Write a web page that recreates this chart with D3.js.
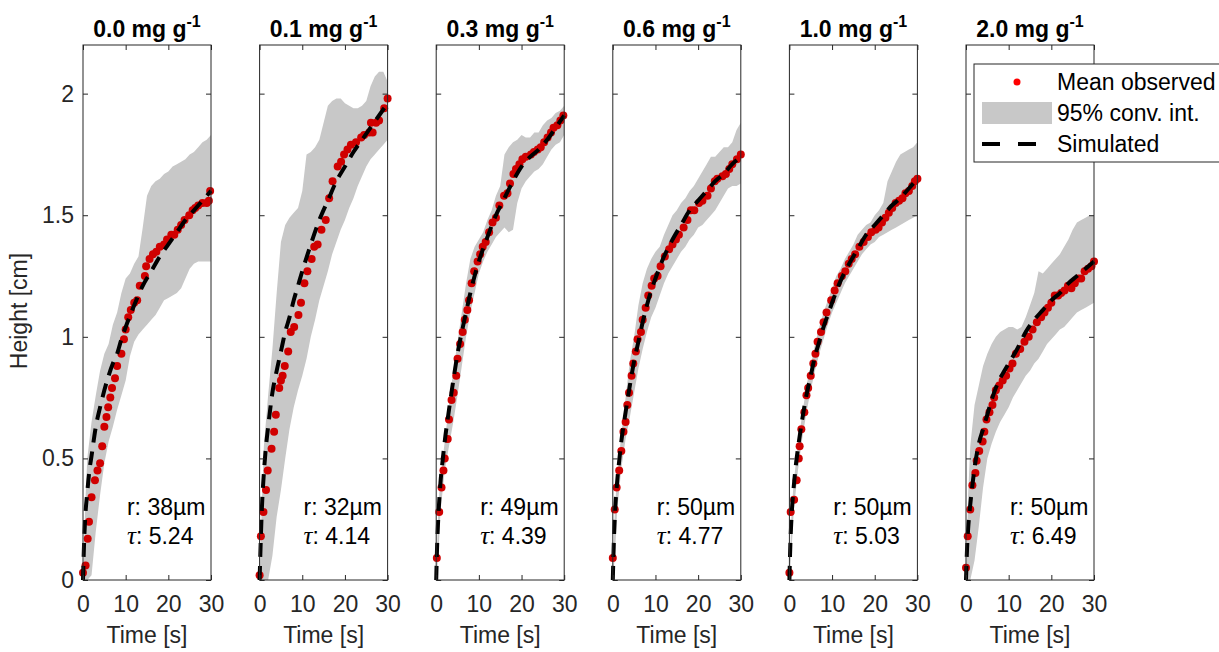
<!DOCTYPE html>
<html>
<head>
<meta charset="utf-8">
<script src="https://cdn.jsdelivr.net/npm/d3@7"></script>
<style>
  body { margin: 0; background: #fff; }
  text { font-family: "Liberation Sans", Arial, Helvetica, sans-serif; }
</style>
</head>
<body>
<div id="chart"></div>
<script>
// panel labels
let concentrations = ["0.0", "0.1", "0.3", "0.6", "1.0", "2.0"];
let radii = ["38µm", "32µm", "49µm", "50µm", "50µm", "50µm"];
let taus = ["5.24", "4.14", "4.39", "4.77", "5.03", "6.49"];

let xTicks = [0, 10, 20, 30];
let yTicks = [0, 0.5, 1, 1.5, 2];
let yTickLabels = ["0", "0.5", "1", "1.5", "2"];

// mean observed heights
let obsTime = [
  [0,0.6,1.1,1.4,2.0,2.8,3.4,4.0,4.5,5.0,5.5,5.9,6.4,6.8,7.5,8.0,9.0,9.6,10,10.6,11.2,12,12.7,13.3,14.5,14.8,15.6,16.4,17.2,18,19,19.7,20.7,21.4,22.2,23,23.8,24.9,25.7,26.3,27,28,29,29.5,29.8],
  [0,0.3,0.9,1.5,1.9,2.8,3.4,3.8,4.6,5.0,5.4,5.9,6.7,7.3,8.1,9.1,9.7,10.5,11.2,12.2,12.8,13.6,14.5,15.5,16.3,17.1,18.3,19.1,19.8,20.6,21.4,22.6,23.8,24.5,25.7,26.1,26.5,27.3,28,29.2,30],
  [0.15,0.7,1.25,1.7,2.0,2.7,3.0,3.6,4.1,4.7,5.0,5.6,6.2,6.7,7.3,7.7,8.3,8.9,9.7,10.3,10.9,11.6,12.4,13.2,14,14.8,15.9,16.7,17.3,18.1,18.7,19.5,20.2,21,22.2,22.9,23.8,24.5,25.3,26.1,26.9,27.5,28.4,29.1,29.8],
  [0,0.45,0.9,1.5,2,2.5,3.0,3.4,3.8,4.4,4.8,5.4,5.8,6.6,7,7.7,8.3,9.1,9.7,10.5,11.2,12.2,13.2,14,14.8,15.5,16.6,17.5,18.3,19.1,20.2,21,22.2,23,23.9,24.5,25.7,26.5,27.3,28,29.1,30],
  [0,0.3,1.1,1.7,2.2,2.4,2.8,3.5,4,4.4,5,5.6,6.1,6.6,7.4,8,8.7,9.8,10.6,11.3,12.3,13.1,13.9,14.6,15.4,16.4,17.4,18.4,19.2,20.2,20.9,21.7,22.5,23.3,24.1,24.9,25.7,26.5,27.2,28,28.8,29.4,30],
  [0,0.4,1,1.5,2.2,2.5,3.1,3.9,4.3,4.8,5.5,6.2,6.6,7,7.8,8.6,9.4,10.2,10.9,11.7,12.7,13.7,14.7,15.6,16.6,17.6,18.4,19.2,20,20.8,21.6,22.3,23.1,23.9,24.7,25.5,26.3,27,27.8,28.6,29.4,30]
];
let obsHeight = [
  [0.03,0.06,0.17,0.24,0.34,0.41,0.45,0.48,0.55,0.63,0.67,0.71,0.75,0.79,0.83,0.88,0.93,0.99,1.03,1.08,1.11,1.14,1.15,1.21,1.25,1.29,1.32,1.34,1.35,1.37,1.38,1.40,1.42,1.42,1.44,1.46,1.48,1.50,1.52,1.53,1.54,1.55,1.55,1.56,1.60],
  [0.02,0.18,0.28,0.37,0.45,0.54,0.61,0.68,0.79,0.82,0.84,0.88,0.94,1.02,1.04,1.09,1.14,1.22,1.27,1.32,1.37,1.38,1.44,1.48,1.57,1.64,1.70,1.72,1.75,1.77,1.79,1.80,1.82,1.83,1.84,1.88,1.84,1.88,1.89,1.94,1.98],
  [0.09,0.28,0.38,0.45,0.50,0.58,0.66,0.74,0.77,0.84,0.91,0.97,1.02,1.07,1.11,1.15,1.22,1.27,1.31,1.34,1.37,1.39,1.43,1.47,1.49,1.54,1.58,1.59,1.63,1.67,1.69,1.71,1.73,1.74,1.75,1.76,1.77,1.78,1.80,1.82,1.84,1.86,1.87,1.89,1.91],
  [0.09,0.29,0.38,0.45,0.53,0.61,0.65,0.72,0.77,0.84,0.89,0.94,0.99,1.02,1.07,1.12,1.17,1.21,1.24,1.25,1.29,1.33,1.36,1.38,1.40,1.42,1.45,1.48,1.52,1.52,1.55,1.56,1.58,1.61,1.64,1.65,1.66,1.67,1.69,1.71,1.73,1.75],
  [0.03,0.28,0.33,0.41,0.50,0.55,0.62,0.69,0.76,0.79,0.84,0.89,0.93,0.98,1.02,1.06,1.10,1.15,1.19,1.22,1.25,1.27,1.30,1.32,1.34,1.37,1.39,1.41,1.43,1.44,1.45,1.47,1.49,1.51,1.53,1.55,1.56,1.57,1.59,1.60,1.62,1.64,1.65],
  [0.05,0.18,0.29,0.39,0.44,0.49,0.53,0.57,0.61,0.66,0.69,0.72,0.75,0.78,0.80,0.82,0.84,0.87,0.89,0.93,0.95,0.98,1.00,1.03,1.06,1.08,1.10,1.12,1.14,1.17,1.17,1.18,1.19,1.21,1.20,1.22,1.24,1.24,1.27,1.28,1.29,1.31]
];

// 95% confidence band
let bandTime = [0,0.5,1,2,3,4,5,6,7,8,9,10,11,12,13,14,15,16,17,18,19,20,21,22,23,24,25,26,27,28,29,30];
let bandHigh = [
  [0,0.3,0.5,0.65,0.76,0.86,0.93,0.97,1.05,1.1,1.18,1.24,1.26,1.3,1.33,1.45,1.58,1.62,1.64,1.65,1.67,1.68,1.7,1.71,1.72,1.73,1.75,1.76,1.78,1.8,1.81,1.83],
  [0,0.3,0.55,0.76,0.95,1.18,1.39,1.46,1.49,1.51,1.53,1.6,1.75,1.76,1.78,1.81,1.88,1.95,1.97,1.98,1.98,1.96,1.95,1.94,1.94,1.95,1.97,2.03,2.07,2.09,2.09,2.05],
  [0,0.3,0.42,0.57,0.72,0.86,0.98,1.1,1.22,1.32,1.37,1.4,1.43,1.48,1.52,1.58,1.62,1.75,1.78,1.8,1.81,1.83,1.82,1.82,1.84,1.84,1.87,1.89,1.9,1.92,1.93,1.95],
  [0,0.3,0.42,0.6,0.75,0.9,1.0,1.13,1.22,1.28,1.32,1.35,1.37,1.42,1.46,1.5,1.52,1.55,1.57,1.6,1.62,1.65,1.68,1.71,1.74,1.74,1.76,1.78,1.78,1.8,1.85,1.88],
  [0,0.28,0.4,0.56,0.68,0.8,0.88,0.97,1.04,1.1,1.15,1.2,1.25,1.28,1.32,1.35,1.38,1.42,1.44,1.46,1.47,1.5,1.52,1.55,1.64,1.68,1.72,1.75,1.76,1.77,1.78,1.8],
  [0,0.35,0.55,0.72,0.8,0.88,0.93,0.97,1.0,1.02,1.03,1.04,1.04,1.03,1.04,1.08,1.13,1.18,1.27,1.26,1.28,1.3,1.32,1.34,1.37,1.4,1.44,1.47,1.48,1.49,1.5,1.5]
];
let bandLow = [
  [0,0,0,0.02,0.2,0.35,0.48,0.57,0.63,0.7,0.76,0.82,0.92,0.98,1.01,1.03,1.05,1.07,1.09,1.12,1.15,1.16,1.17,1.18,1.2,1.24,1.28,1.3,1.31,1.31,1.31,1.31],
  [0,0,0,0,0.1,0.26,0.37,0.5,0.62,0.71,0.78,0.84,0.91,1.0,1.07,1.15,1.21,1.27,1.34,1.39,1.44,1.48,1.53,1.57,1.62,1.66,1.7,1.73,1.75,1.77,1.79,1.81],
  [0,0.1,0.28,0.45,0.55,0.65,0.76,0.88,1.0,1.1,1.18,1.26,1.31,1.35,1.38,1.41,1.43,1.45,1.43,1.44,1.55,1.61,1.64,1.66,1.68,1.69,1.71,1.74,1.77,1.79,1.8,1.83],
  [0,0.1,0.28,0.46,0.58,0.67,0.77,0.87,0.95,1.02,1.08,1.12,1.17,1.22,1.26,1.29,1.32,1.35,1.37,1.4,1.42,1.45,1.46,1.48,1.5,1.52,1.55,1.58,1.61,1.62,1.62,1.63],
  [0,0.12,0.28,0.45,0.58,0.69,0.78,0.86,0.93,0.99,1.05,1.1,1.14,1.18,1.22,1.25,1.28,1.31,1.34,1.36,1.38,1.39,1.41,1.42,1.43,1.44,1.45,1.46,1.47,1.48,1.49,1.5],
  [0,0,0,0.08,0.22,0.38,0.5,0.56,0.61,0.65,0.68,0.71,0.75,0.78,0.81,0.84,0.86,0.89,0.91,0.94,0.97,0.99,1.01,1.03,1.04,1.06,1.08,1.1,1.11,1.12,1.13,1.14]
];

// simulated heights
let simTime = [0,0.25,0.5,1,1.5,2,3,4,5,6,7,8,9,10,12,14,16,18,20,22,24,26,28,30];
let simHeight = [
  [0,0.15,0.25,0.36,0.45,0.51,0.63,0.71,0.78,0.84,0.89,0.93,0.99,1.04,1.13,1.21,1.27,1.33,1.38,1.43,1.48,1.52,1.56,1.60],
  [0,0.15,0.28,0.44,0.55,0.63,0.77,0.86,0.94,1.02,1.08,1.15,1.21,1.27,1.38,1.48,1.56,1.64,1.70,1.76,1.81,1.86,1.91,1.96],
  [0,0.16,0.26,0.40,0.49,0.57,0.70,0.82,0.93,1.02,1.10,1.18,1.25,1.31,1.41,1.50,1.57,1.64,1.70,1.74,1.77,1.81,1.86,1.91],
  [0,0.16,0.27,0.40,0.49,0.57,0.69,0.80,0.90,0.98,1.06,1.13,1.19,1.24,1.33,1.40,1.46,1.52,1.56,1.60,1.64,1.67,1.71,1.74],
  [0,0.16,0.26,0.38,0.47,0.54,0.66,0.76,0.84,0.92,0.98,1.04,1.09,1.14,1.23,1.30,1.36,1.42,1.46,1.50,1.54,1.57,1.61,1.65],
  [0,0.13,0.21,0.31,0.39,0.46,0.56,0.62,0.68,0.74,0.79,0.83,0.86,0.89,0.95,1.02,1.07,1.11,1.15,1.18,1.22,1.25,1.28,1.31]
];

let legendLabels = ["Mean observed", "95% conv. int.", "Simulated"];

let width = 1219;
let height = 652;
let panel_left = 83;
let panel_step = 176.6;
let panel_w = 128;
let plot_top = 45;
let plot_bottom = 580;
let axis_color = "#262626";
let font_size = "23px";

let svg = d3
  .select("#chart")
  .append("svg")
  .attr("width", width)
  .attr("height", height);

let y = d3.scaleLinear().domain([0, 2.2]).range([plot_bottom, plot_top]);

concentrations.forEach(function (conc, i) {
  let left = panel_left + i * panel_step;
  let x = d3.scaleLinear().domain([0, 30]).range([left, left + panel_w]);
  let g = svg.append("g");

  // band
  let band = bandTime.map(function (t, k) {
    return { t: t, lo: bandLow[i][k], hi: bandHigh[i][k] };
  });
  g.append("path")
    .datum(band)
    .attr("fill", "#c8c8c8")
    .attr("d", d3.area()
      .x(function (d) { return x(d.t); })
      .y0(function (d) { return y(d.lo); })
      .y1(function (d) { return y(d.hi); }));

  // observed points
  let obs = obsTime[i].map(function (t, k) {
    return { t: t, h: obsHeight[i][k] };
  });
  g.selectAll(".obs")
    .data(obs)
    .enter()
    .append("circle")
    .attr("class", "obs")
    .attr("cx", function (d) { return x(d.t); })
    .attr("cy", function (d) { return y(d.h); })
    .attr("r", 4)
    .attr("fill", "#d00000");

  // simulated
  let sim = simTime.map(function (t, k) {
    return { t: t, h: simHeight[i][k] };
  });
  g.append("path")
    .datum(sim)
    .attr("fill", "none")
    .attr("stroke", "#000")
    .attr("stroke-width", 4)
    .attr("stroke-dasharray", "14,9")
    .attr("d", d3.line()
      .curve(d3.curveMonotoneX)
      .x(function (d) { return x(d.t); })
      .y(function (d) { return y(d.h); }));

  // axes, ticks pointing inward
  let bottomAxis = d3.axisBottom(x).tickValues(xTicks).tickSize(-5).tickSizeOuter(0).tickPadding(16);
  let topAxis = d3.axisTop(x).tickValues(xTicks).tickSize(-5).tickSizeOuter(0).tickFormat("");
  let leftAxis = d3.axisLeft(y).tickValues(yTicks).tickSize(-5).tickSizeOuter(0).tickPadding(9)
    .tickFormat(function (d, k) { return i == 0 ? yTickLabels[k] : ""; });
  let rightAxis = d3.axisRight(y).tickValues(yTicks).tickSize(-5).tickSizeOuter(0).tickFormat("");

  let axes = [
    [bottomAxis, "translate(0," + plot_bottom + ")"],
    [topAxis, "translate(0," + plot_top + ")"],
    [leftAxis, "translate(" + left + ",0)"],
    [rightAxis, "translate(" + (left + panel_w) + ",0)"]
  ];
  axes.forEach(function (a) {
    let ag = g.append("g").attr("transform", a[1]).call(a[0]);
    ag.select(".domain").remove();
    ag.selectAll("line").attr("stroke", axis_color);
    ag.selectAll("text")
      .attr("fill", axis_color)
      .style("font-size", font_size)
      .style("font-family", '"Liberation Sans", Arial, sans-serif');
  });

  g.append("rect")
    .attr("x", left)
    .attr("y", plot_top)
    .attr("width", panel_w)
    .attr("height", plot_bottom - plot_top)
    .attr("fill", "none")
    .attr("stroke", axis_color)
    .attr("stroke-width", 1);

  // title
  let title = g.append("text")
    .attr("x", left + panel_w / 2)
    .attr("y", 37)
    .attr("text-anchor", "middle")
    .style("font-size", font_size)
    .style("font-weight", "bold")
    .attr("fill", "#000");
  title.append("tspan").text(conc + " mg g");
  title.append("tspan").attr("dy", -10).style("font-size", "16px").text("-1");

  // x label
  g.append("text")
    .attr("x", left + panel_w / 2)
    .attr("y", 643)
    .attr("text-anchor", "middle")
    .style("font-size", font_size)
    .attr("fill", axis_color)
    .text("Time [s]");

  // fit parameters
  g.append("text")
    .attr("x", x(10.3))
    .attr("y", y(0.268))
    .style("font-size", font_size)
    .attr("fill", "#000")
    .text("r: " + radii[i]);
  let tau = g.append("text")
    .attr("x", x(10.3))
    .attr("y", y(0.148))
    .style("font-size", font_size)
    .attr("fill", "#000");
  tau.append("tspan")
    .style("font-family", '"Liberation Serif", "DejaVu Serif", serif')
    .style("font-style", "italic")
    .style("font-size", "25px")
    .text("τ");
  tau.append("tspan").text(": " + taus[i]);
});

// y label
svg.append("text")
  .attr("transform", "translate(27,311) rotate(-90)")
  .attr("text-anchor", "middle")
  .style("font-size", font_size)
  .attr("fill", axis_color)
  .text("Height [cm]");

// legend
let lg = svg.append("g");
lg.append("rect")
  .attr("x", 974)
  .attr("y", 64)
  .attr("width", 260)
  .attr("height", 98)
  .attr("fill", "#fff")
  .attr("stroke", axis_color)
  .attr("stroke-width", 1);
lg.append("circle").attr("cx", 1017).attr("cy", 82).attr("r", 3.5).attr("fill", "#ff0000");
lg.append("rect").attr("x", 982).attr("y", 102).attr("width", 70).attr("height", 22).attr("fill", "#c8c8c8");
lg.append("line")
  .attr("x1", 982).attr("x2", 1038).attr("y1", 144).attr("y2", 144)
  .attr("stroke", "#000").attr("stroke-width", 4).attr("stroke-dasharray", "18,18");
lg.selectAll(".lab")
  .data(legendLabels)
  .enter()
  .append("text")
  .attr("class", "lab")
  .attr("x", 1057)
  .attr("y", function (d, k) { return 90 + k * 31; })
  .style("font-size", font_size)
  .attr("fill", "#000")
  .text(function (d) { return d; });
</script>
</body>
</html>
